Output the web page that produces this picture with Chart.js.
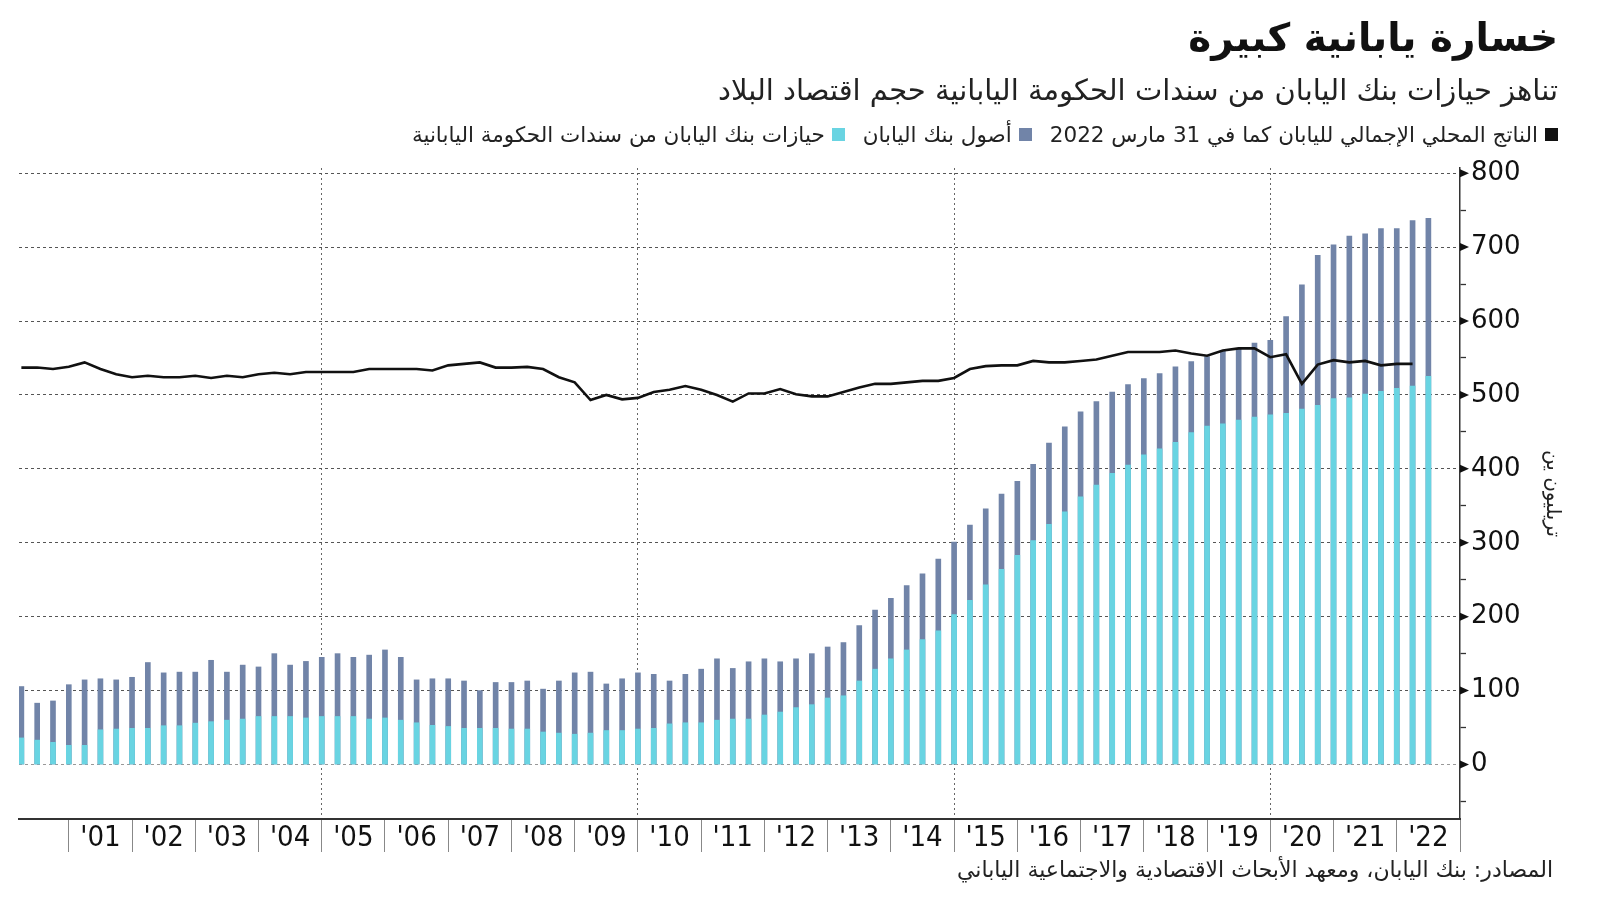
<!doctype html>
<html lang="ar">
<head>
  <meta charset="utf-8">
  <title>خسارة يابانية كبيرة</title>
  <style>
    body { margin: 0; background: #fff; font-family: "DejaVu Sans", sans-serif; color: #1a1a1a; }
    #wrap { position: relative; width: 1600px; height: 901px; overflow: hidden; }
    #caja { position: absolute; left: 0; top: 0; width: 1600px; height: 901px; }
    .hdr { position: absolute; right: 42px; direction: rtl; text-align: right; white-space: nowrap; }
    #titulo { top: 15px; font-size: 39px; font-weight: bold; color: #111; }
    #subtitulo { top: 73px; font-size: 29px; color: #222; }
    #leyenda { top: 122px; font-size: 21.5px; display: flex; gap: 18px; color: #222; }
    .item { display: flex; align-items: center; gap: 7px; }
    .cuadro { width: 13px; height: 13px; display: inline-block; }
    #fuente { top: 857px; right: 47px; font-size: 22px; color: #222; }
  </style>
</head>
<body>
  <div id="wrap">
    <div id="caja"><canvas id="grafico"></canvas></div>
    <div class="hdr" id="titulo">خسارة يابانية كبيرة</div>
    <div class="hdr" id="subtitulo">تناهز حيازات بنك اليابان من سندات الحكومة اليابانية حجم اقتصاد البلاد</div>
    <div class="hdr" id="leyenda"></div>
    <div class="hdr" id="fuente">المصادر: بنك اليابان، ومعهد الأبحاث الاقتصادية والاجتماعية الياباني</div>
  </div>

  <script src="https://cdn.jsdelivr.net/npm/chart.js"></script>
  <script>
    // trimestres: 2000 T2 ... 2022 T3 (90 barras)
    const trimestres = [];
    for (let a = 2000, q = 2; trimestres.length < 90;) {
      trimestres.push(a + ' Q' + q);
      q++;
      if (q > 4) { q = 1; a++; }
    }

    const etiquetasAnio = ["'01", "'02", "'03", "'04", "'05", "'06", "'07", "'08", "'09", "'10", "'11",
      "'12", "'13", "'14", "'15", "'16", "'17", "'18", "'19", "'20", "'21", "'22"];

    // أصول بنك اليابان (تريليون ين)
    const activos = [105.5, 83, 86, 108, 114.5, 116, 114.5, 118, 138, 124, 125, 125, 141, 125, 134.5, 132,
      150, 134.5, 139.5, 145, 150, 145, 148, 155, 145, 114.5, 116, 116, 113, 100, 111, 111, 113, 102, 113,
      124, 125, 109, 116, 124, 122, 113, 122, 129, 143, 130, 139, 143, 139, 143, 150, 159, 165, 188, 209,
      225, 242, 258, 278, 301, 324, 346, 366, 383, 406, 435, 457, 477, 491, 504, 514, 522, 529, 538, 545,
      552, 559, 562, 570, 574, 606, 649, 689, 703, 715, 718, 725, 725, 736, 739];

    // حيازات بنك اليابان من سندات الحكومة اليابانية
    const tenencias = [36, 33, 30, 26, 26, 47, 48, 49, 49, 52.5, 52.5, 56, 58, 60, 61.5, 65, 65, 65, 63, 65,
      65, 65, 61.5, 63, 60, 56.5, 53, 51.5, 49, 49, 49, 48, 48, 44, 42.5, 41, 42.5, 46, 46, 48, 49, 55,
      56.5, 56.5, 60, 61.5, 61.5, 67, 71, 77, 81, 90, 93, 113, 129, 143, 155, 169, 181, 203, 222, 243, 264,
      283, 303, 325, 342, 362, 378, 394, 405, 419, 427, 436, 449, 458, 461, 466, 470, 473, 475, 481, 486,
      495, 496, 501, 505, 509, 512, 525];

    // الناتج المحلي الإجمالي
    const pib = [537, 537, 535, 538, 544, 535, 528, 524, 526, 524, 524, 526, 523, 526, 524, 528, 530, 528,
      531, 531, 531, 531, 535, 535, 535, 535, 533, 540, 542, 544, 537, 537, 538, 535, 524, 517, 493, 500,
      494, 496, 504, 507, 512, 507, 500, 491, 502, 502, 508, 501, 498, 498, 504, 510, 515, 515, 517, 519,
      519, 523, 535, 539, 540, 540, 546, 544, 544, 546, 548, 553, 558, 558, 558, 560, 556, 553, 560, 563,
      563, 551, 555, 515, 541, 547, 544, 546, 540, 542, 542, null];

    const colorActivos = '#7184a8';
    const colorTenencias = '#69d4e2';
    const colorPib = '#111111';

    const aPuntos = arr => arr.map((v, i) => ({ x: i, y: v, q: trimestres[i] }));

    // ticks del eje x: limites de año (3, 7, ...) y centros (5, 9, ...)
    const esLimite = v => (v - 3) % 4 === 0;
    const esCentro = v => (v - 5) % 4 === 0;

    // flechas en las marcas principales del eje y
    const flechas = {
      id: 'flechas',
      afterDraw(chart) {
        const esc = chart.scales.y;
        const c = chart.ctx;
        c.save();
        c.fillStyle = '#111';
        esc.ticks.forEach(t => {
          if (t.value >= 0 && t.value % 100 === 0) {
            const py = esc.getPixelForValue(t.value);
            c.beginPath();
            c.moveTo(esc.left, py - 4);
            c.lineTo(esc.left, py + 4);
            c.lineTo(esc.left + 9, py);
            c.closePath();
            c.fill();
          }
        });
        c.restore();
      }
    };

    const grafico = new Chart(document.getElementById('grafico'), {
      type: 'bar',
      data: {
        datasets: [
          {
            type: 'line',
            label: 'الناتج المحلي الإجمالي لليابان كما في 31 مارس 2022',
            data: aPuntos(pib),
            borderColor: colorPib,
            backgroundColor: colorPib,
            borderWidth: 2.6,
            pointRadius: 0,
            tension: 0,
            order: 0
          },
          {
            label: 'أصول بنك اليابان',
            data: aPuntos(activos),
            backgroundColor: colorActivos,
            grouped: false,
            barThickness: 5,
            order: 2
          },
          {
            label: 'حيازات بنك اليابان من سندات الحكومة اليابانية',
            data: aPuntos(tenencias),
            backgroundColor: colorTenencias,
            grouped: false,
            barThickness: 5,
            order: 1
          }
        ]
      },
      options: {
        responsive: true,
        maintainAspectRatio: false,
        animation: false,
        layout: { padding: { left: 19, top: 168, right: 0, bottom: 42 } },
        plugins: {
          legend: { display: false },
          tooltip: { enabled: false }
        },
        scales: {
          x: {
            type: 'linear',
            min: -0.15,
            max: 91,
            offset: false,
            afterBuildTicks: esc => {
              const t = [];
              for (let v = 3; v <= 91; v += 2) t.push({ value: v });
              esc.ticks = t;
            },
            afterFit: esc => { esc.height = 40; },
            grid: {
              offset: false,
              color: c => (c.tick && esLimite(c.tick.value) && (c.tick.value - 19) % 20 === 0) ? '#666' : 'rgba(0,0,0,0)',
              tickColor: c => (c.tick && esLimite(c.tick.value)) ? '#888' : 'rgba(0,0,0,0)',
              tickLength: 33,
              lineWidth: 1,
              tickWidth: 1
            },
            border: { display: true, color: '#333', width: 2, dash: [2, 3] },
            ticks: {
              autoSkip: false,
              maxRotation: 0,
              padding: -31,
              color: '#111',
              font: { family: 'DejaVu Sans Condensed', size: 29 },
              callback: v => esCentro(v) ? etiquetasAnio[(v - 5) / 4] : ''
            }
          },
          y: {
            position: 'right',
            min: -73.7,
            max: 807,
            afterBuildTicks: esc => {
              const t = [];
              for (let v = -50; v <= 800; v += 50) t.push({ value: v });
              esc.ticks = t;
            },
            afterFit: esc => { esc.width = 140; },
            grid: {
              color: c => {
                if (!c.tick || c.tick.value < 0 || c.tick.value % 100 !== 0) return 'rgba(0,0,0,0)';
                return c.tick.value === 0 ? '#999' : '#555';
              },
              tickColor: c => (c.tick && c.tick.value % 100 !== 0) ? '#333' : 'rgba(0,0,0,0)',
              tickLength: 6,
              lineWidth: 1,
              tickWidth: 1.3
            },
            border: { display: true, color: '#333', width: 1.5, dash: [3, 3] },
            ticks: {
              padding: 5,
              color: '#111',
              font: { family: 'DejaVu Sans', size: 26 },
              callback: v => (v >= 0 && v % 100 === 0) ? String(v) : ''
            },
            title: {
              display: true,
              text: 'تريليون ين',
              color: '#222',
              font: { family: 'DejaVu Sans', size: 20 },
              padding: { top: 36 }
            }
          }
        }
      },
      plugins: [flechas]
    });

    // leyenda en HTML a partir de los datasets
    const leyenda = document.getElementById('leyenda');
    grafico.data.datasets.forEach(ds => {
      const item = document.createElement('span');
      item.className = 'item';
      const cuadro = document.createElement('span');
      cuadro.className = 'cuadro';
      cuadro.style.background = ds.backgroundColor;
      const txt = document.createElement('span');
      txt.textContent = ds.label;
      item.appendChild(cuadro);
      item.appendChild(txt);
      leyenda.appendChild(item);
    });
  </script>
</body>
</html>
